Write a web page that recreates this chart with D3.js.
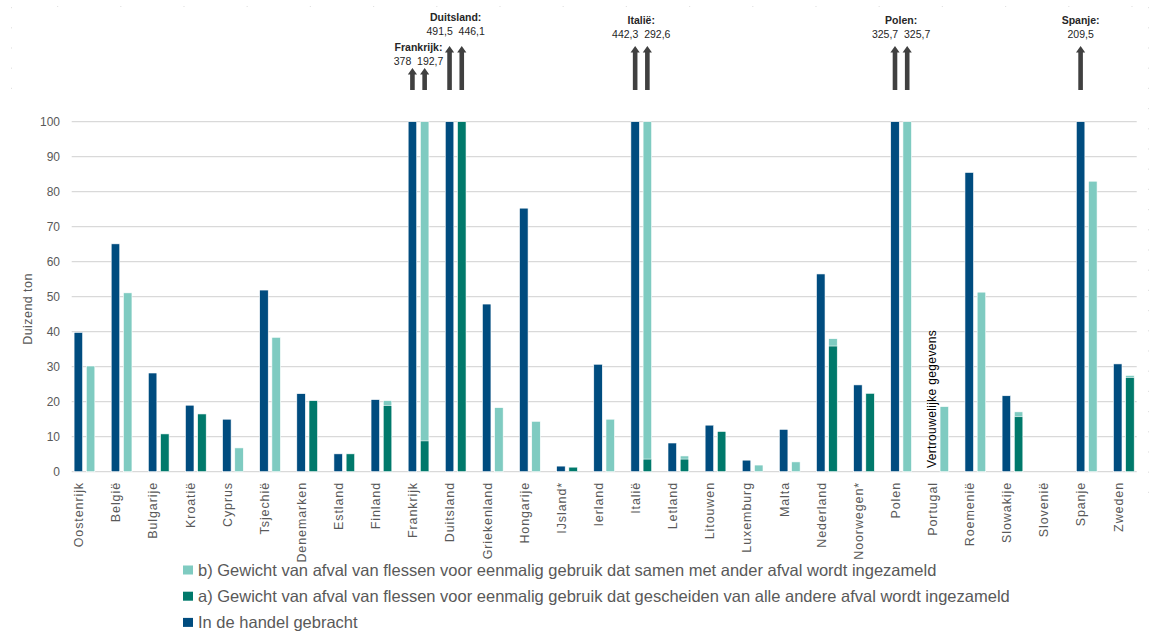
<!DOCTYPE html>
<html>
<head>
<meta charset="utf-8">
<script src="https://cdn.jsdelivr.net/npm/d3@7"></script>
<style>
  html, body { margin: 0; padding: 0; background: #ffffff; }
  svg { display: block; }
  text { font-family: "Liberation Sans", Arial, sans-serif; }
</style>
</head>
<body>
<svg id="chart" width="1171" height="632"></svg>
<script>
// ---------- data ----------
const categories = ["Oostenrijk","België","Bulgarije","Kroatië","Cyprus","Tsjechië","Denemarken","Estland","Finland","Frankrijk","Duitsland","Griekenland","Hongarije","IJsland*","Ierland","Italië","Letland","Litouwen","Luxemburg","Malta","Nederland","Noorwegen*","Polen","Portugal","Roemenië","Slowakije","Slovenië","Spanje","Zweden"];
// In de handel gebracht
const inHandel = [39.8, 65.1, 28.2, 19.0, 15.0, 51.9, 22.3, 5.1, 20.6, 378, 491.5, 47.9, 75.3, 1.6, 30.7, 442.3, 8.2, 13.3, 3.3, 12.1, 56.5, 24.8, 325.7, null, 85.5, 21.7, null, 209.5, 30.8];
// a) gescheiden ingezameld
const gescheiden = [null, null, 10.8, 16.5, null, null, 20.3, 5.1, 18.9, 8.8, 446.1, null, null, 1.3, null, 3.6, 3.6, 11.5, null, null, 35.9, 22.4, null, null, null, 15.7, null, null, 26.9];
// b) samen met ander afval ingezameld
const samen = [30.2, 51.1, null, null, 6.8, 38.4, null, null, 20.3, 192.7, null, 18.3, 14.4, null, 15.0, 292.6, 4.5, null, 1.9, 2.8, 38.0, null, 325.7, 18.6, 51.3, 17.1, null, 83.0, 27.5];
const yTicks = [0, 10, 20, 30, 40, 50, 60, 70, 80, 90, 100];
const yTitle = "Duizend ton";
const confidentialCategory = "Portugal";
const confidentialText = "Vertrouwelijke gegevens";
const legendLabels = [
  "b) Gewicht van afval van flessen voor eenmalig gebruik dat samen met ander afval wordt ingezameld",
  "a) Gewicht van afval van flessen voor eenmalig gebruik dat gescheiden van alle andere afval wordt ingezameld",
  "In de handel gebracht"
];

// ---------- styles ----------
const C_DARK = "#004c7f", C_GREEN = "#00796b", C_LIGHT = "#7fcbc1";
const GRID = "#d9d9d9", AXIS_TXT = "#595959", ANN = "#404040";

const svg = d3.select("#chart");
const yMax = 100;
const y = d3.scaleLinear().domain([0, yMax]).range([471.7, 121.7]);
const x = d3.scaleBand().domain(categories).range([65.9, 65.9 + 29 * 37.12]).paddingInner(0).paddingOuter(0);
const xi = d3.scaleBand().domain(["dark", "second"]).range([0, x.bandwidth()]).paddingInner(0.3).paddingOuter(0.67);
const bw = xi.bandwidth();
const cx = (c, s) => x(c) + xi(s) + bw / 2;
const clip = v => Math.min(v, yMax);

// decorative faint dotted frame
const deco = svg.append("g").attr("stroke", "#e2e2e2").attr("stroke-width", 1);
deco.append("line").attr("x1", 57).attr("x2", 1140).attr("y1", 6.5).attr("y2", 6.5).attr("stroke-dasharray", "1.2,62");
deco.append("line").attr("x1", 11.5).attr("x2", 11.5).attr("y1", 7).attr("y2", 90).attr("stroke-dasharray", "1.2,19");
deco.append("line").attr("x1", 1148.5).attr("x2", 1148.5).attr("y1", 7).attr("y2", 500).attr("stroke-dasharray", "1.2,19");

// gridlines
const plotX0 = 71.7, plotX1 = 1136.7;
svg.append("g").selectAll("line").data(yTicks).join("line")
  .attr("x1", plotX0).attr("x2", plotX1)
  .attr("y1", d => y(d)).attr("y2", d => y(d))
  .attr("stroke", GRID).attr("stroke-width", 1.2);

// y tick labels
const yAxis = d3.axisLeft(y).tickValues(yTicks).tickSize(0).tickPadding(0);
const gy = svg.append("g").attr("transform", "translate(60,0)").call(yAxis);
gy.select(".domain").remove();
gy.selectAll("text").attr("fill", AXIS_TXT).style("font-size", "12px").style("font-family", '"Liberation Sans", Arial, sans-serif').attr("dy", "0.35em");

// y title
svg.append("text")
  .attr("transform", "translate(31.5,309) rotate(-90)")
  .attr("text-anchor", "middle")
  .attr("fill", AXIS_TXT).style("font-size", "12.5px").style("letter-spacing", "0.45px")
  .text(yTitle);

// bars
const rows = categories.map((c, i) => ({ c, dark: inHandel[i], a: gescheiden[i], b: samen[i] }));
const g = svg.append("g");
g.selectAll("rect.dark").data(rows.filter(d => d.dark != null)).join("rect")
  .attr("class", "dark")
  .attr("x", d => x(d.c) + xi("dark")).attr("width", bw)
  .attr("y", d => y(clip(d.dark))).attr("height", d => y(0) - y(clip(d.dark)))
  .attr("fill", C_DARK).attr("stroke", "#ffffff").attr("stroke-width", 0.6);
g.selectAll("rect.b").data(rows.filter(d => d.b != null)).join("rect")
  .attr("class", "b")
  .attr("x", d => x(d.c) + xi("second")).attr("width", bw)
  .attr("y", d => y(clip(d.b))).attr("height", d => y(0) - y(clip(d.b)))
  .attr("fill", C_LIGHT).attr("stroke", "#ffffff").attr("stroke-width", 0.6);
g.selectAll("rect.a").data(rows.filter(d => d.a != null)).join("rect")
  .attr("class", "a")
  .attr("x", d => x(d.c) + xi("second")).attr("width", bw)
  .attr("y", d => y(clip(d.a))).attr("height", d => y(0) - y(clip(d.a)))
  .attr("fill", C_GREEN).attr("stroke", "#ffffff").attr("stroke-width", 0.6);

// category labels
svg.append("g").selectAll("text").data(categories).join("text")
  .attr("transform", c => `translate(${cx(c, "dark") + 0.5},482) rotate(-90)`)
  .attr("text-anchor", "end").attr("dy", "0.35em")
  .attr("fill", AXIS_TXT).style("font-size", "12.5px").style("letter-spacing", "0.9px")
  .text(c => c);

// confidential note
svg.append("text")
  .attr("transform", `translate(${cx(confidentialCategory, "dark")},468) rotate(-90)`)
  .attr("text-anchor", "start").attr("dy", "0.35em")
  .attr("fill", "#000000").style("font-size", "12px").style("letter-spacing", "0.35px")
  .text(confidentialText);

// annotations for values beyond the axis
const nl = d3.formatLocale({ decimal: ",", thousands: ".", grouping: [3], currency: ["€", ""] });
const fmt = nl.format(".1~f");
const lowered = new Set(["Frankrijk"]);
const annots = rows.map(d => {
  const arrows = [];
  if (d.dark != null && d.dark > yMax) arrows.push({ x: cx(d.c, "dark"), v: d.dark });
  const sec = Math.max(d.a || 0, d.b || 0);
  if (sec > yMax) arrows.push({ x: cx(d.c, "second"), v: sec });
  return { c: d.c, arrows };
}).filter(d => d.arrows.length);

const ag = svg.append("g");
annots.forEach(an => {
  const low = lowered.has(an.c);
  const tip = low ? 68 : 46, base = 90;
  const titleY = low ? 51 : (an.c === "Duitsland" ? 20.5 : 24);
  const numY = low ? 65 : (an.c === "Duitsland" ? 35 : 38);
  an.arrows.forEach(a => {
    const sw = 2.3, hw = 4.6, hh = 6.5;
    const p = d3.path();
    p.moveTo(a.x - sw, base); p.lineTo(a.x - sw, tip + hh); p.lineTo(a.x - hw, tip + hh);
    p.lineTo(a.x, tip); p.lineTo(a.x + hw, tip + hh); p.lineTo(a.x + sw, tip + hh);
    p.lineTo(a.x + sw, base); p.closePath();
    ag.append("path").attr("d", p.toString()).attr("fill", ANN);
  });
  const mx = d3.mean(an.arrows, a => a.x);
  ag.append("text").attr("x", mx).attr("y", titleY).attr("text-anchor", "middle")
    .attr("fill", "#262626").style("font-size", "10.5px").style("font-weight", "bold")
    .text(an.c + ":");
  ag.append("text").attr("x", mx).attr("y", numY).attr("text-anchor", "middle")
    .attr("fill", "#262626").style("font-size", "10.5px").style("white-space", "pre")
    .attr("xml:space", "preserve")
    .text(an.arrows.map(a => fmt(a.v)).join("  "));
});

// legend
const legColors = [C_LIGHT, C_GREEN, C_DARK];
const lg = svg.append("g");
legendLabels.forEach((t, i) => {
  const by = 576 + i * 26.2;
  lg.append("rect").attr("x", 183).attr("y", by - 10.5).attr("width", 10).attr("height", 9).attr("fill", legColors[i]);
  lg.append("text").attr("x", 198).attr("y", by).attr("fill", AXIS_TXT).style("font-size", "16.5px").text(t);
});
</script>
</body>
</html>
